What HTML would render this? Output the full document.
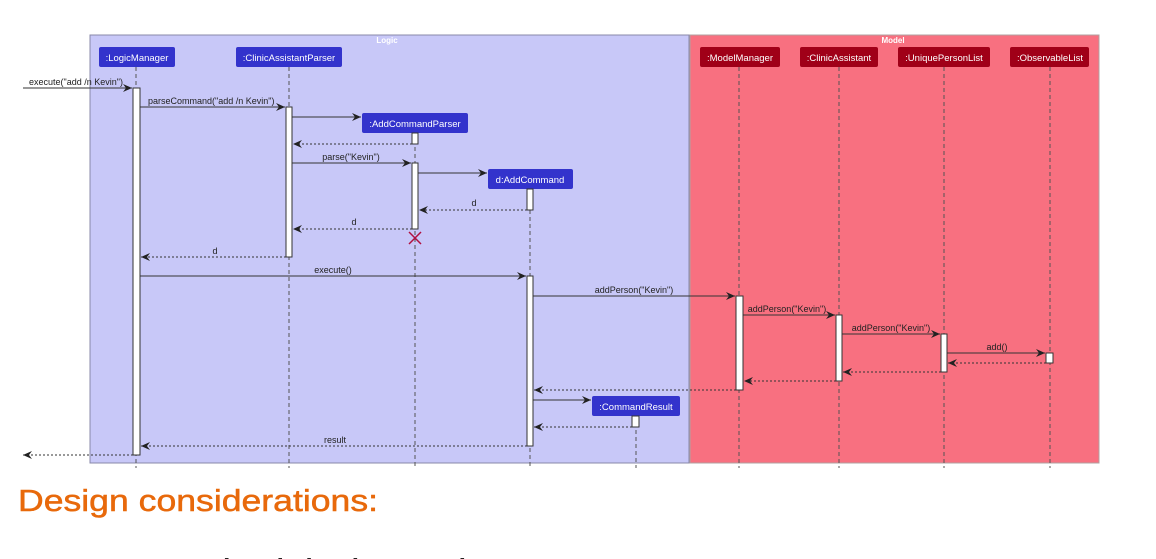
<!DOCTYPE html>
<html><head><meta charset="utf-8"><style>
html,body{margin:0;padding:0;background:#fff;width:1156px;height:559px;overflow:hidden}
svg{display:block}
</style></head><body>
<svg width="1156" height="559" xmlns="http://www.w3.org/2000/svg" font-family="Liberation Sans, sans-serif">
<defs>
<marker id="a" markerWidth="10" markerHeight="8" refX="9" refY="4" orient="auto" markerUnits="userSpaceOnUse">
<path d="M0,0 L9,4 L0,8 L3,4 Z" fill="#222"/></marker>
</defs>
<rect x="90" y="35" width="599" height="428" fill="#C8C8F8" stroke="#8888a8" stroke-width="1"/>
<rect x="690" y="35" width="409" height="428" fill="#F87080" stroke="#b0a0a0" stroke-width="1"/>
<text x="387" y="43" font-size="8" fill="#fff" text-anchor="middle" font-weight="bold">Logic</text>
<text x="893" y="43" font-size="8" fill="#fff" text-anchor="middle" font-weight="bold">Model</text>
<g stroke="#555" stroke-width="1" stroke-dasharray="4,3">
<line x1="136" y1="67" x2="136" y2="468"/><line x1="289" y1="67" x2="289" y2="468"/>
<line x1="415" y1="133" x2="415" y2="468"/><line x1="530" y1="189" x2="530" y2="468"/>
<line x1="636" y1="416" x2="636" y2="468"/>
<line x1="739" y1="67" x2="739" y2="468"/><line x1="839" y1="67" x2="839" y2="468"/>
<line x1="944" y1="67" x2="944" y2="468"/><line x1="1050" y1="67" x2="1050" y2="468"/>
</g>
<g font-size="9.5" fill="#fff" text-anchor="middle">
<rect x="99" y="47" width="76" height="20" rx="2" fill="#3333CC"/><text x="137" y="61">:LogicManager</text>
<rect x="236" y="47" width="106" height="20" rx="2" fill="#3333CC"/><text x="289" y="61">:ClinicAssistantParser</text>
<rect x="362" y="113" width="106" height="20" rx="2" fill="#3333CC"/><text x="415" y="127">:AddCommandParser</text>
<rect x="488" y="169" width="85" height="20" rx="2" fill="#3333CC"/><text x="530" y="183">d:AddCommand</text>
<rect x="592" y="396" width="88" height="20" rx="2" fill="#3333CC"/><text x="636" y="410">:CommandResult</text>
<rect x="700" y="47" width="80" height="20" rx="2" fill="#A00018"/><text x="740" y="61">:ModelManager</text>
<rect x="800" y="47" width="78" height="20" rx="2" fill="#A00018"/><text x="839" y="61">:ClinicAssistant</text>
<rect x="898" y="47" width="92" height="20" rx="2" fill="#A00018"/><text x="944" y="61">:UniquePersonList</text>
<rect x="1010" y="47" width="79" height="20" rx="2" fill="#A00018"/><text x="1050" y="61">:ObservableList</text>
</g>
<g fill="#fff" stroke="#333" stroke-width="1">
<rect x="133" y="88" width="7" height="367"/>
<rect x="286" y="107" width="6" height="150"/>
<rect x="412" y="133" width="6" height="11"/>
<rect x="412" y="163" width="6" height="66"/>
<rect x="527" y="189" width="6" height="21"/>
<rect x="527" y="276" width="6" height="170"/>
<rect x="632" y="416" width="7" height="11"/>
<rect x="736" y="296" width="7" height="94"/>
<rect x="836" y="315" width="6" height="66"/>
<rect x="941" y="334" width="6" height="38"/>
<rect x="1046" y="353" width="7" height="10"/>
</g>
<path d="M409,232 L421,244 M421,232 L409,244" stroke="#b01040" stroke-width="1.5"/>
<g stroke="#333" stroke-width="1" marker-end="url(#a)" fill="none">
<line x1="23" y1="88" x2="132" y2="88"/>
<line x1="140" y1="107" x2="285" y2="107"/>
<line x1="292" y1="117" x2="361" y2="117"/>
<line x1="292" y1="163" x2="411" y2="163"/>
<line x1="418" y1="173" x2="487" y2="173"/>
<line x1="140" y1="276" x2="526" y2="276"/>
<line x1="533" y1="296" x2="735" y2="296"/>
<line x1="743" y1="315" x2="835" y2="315"/>
<line x1="842" y1="334" x2="940" y2="334"/>
<line x1="947" y1="353" x2="1045" y2="353"/>
<line x1="533" y1="400" x2="591" y2="400"/>
</g>
<g stroke="#333" stroke-width="1" stroke-dasharray="2,2" marker-end="url(#a)" fill="none">
<line x1="412" y1="144" x2="293" y2="144"/>
<line x1="527" y1="210" x2="419" y2="210"/>
<line x1="412" y1="229" x2="293" y2="229"/>
<line x1="286" y1="257" x2="141" y2="257"/>
<line x1="1046" y1="363" x2="948" y2="363"/>
<line x1="941" y1="372" x2="843" y2="372"/>
<line x1="836" y1="381" x2="744" y2="381"/>
<line x1="736" y1="390" x2="534" y2="390"/>
<line x1="632" y1="427" x2="534" y2="427"/>
<line x1="527" y1="446" x2="141" y2="446"/>
<line x1="133" y1="455" x2="23" y2="455"/>
</g>
<g font-size="9" fill="#222">
<text x="29" y="85">execute("add /n Kevin")</text>
<text x="148" y="104">parseCommand("add /n Kevin")</text>
<text x="351" y="160" text-anchor="middle">parse("Kevin")</text>
<text x="474" y="206" text-anchor="middle">d</text>
<text x="354" y="225" text-anchor="middle">d</text>
<text x="215" y="254" text-anchor="middle">d</text>
<text x="333" y="273" text-anchor="middle">execute()</text>
<text x="634" y="293" text-anchor="middle">addPerson("Kevin")</text>
<text x="787" y="312" text-anchor="middle">addPerson("Kevin")</text>
<text x="891" y="331" text-anchor="middle">addPerson("Kevin")</text>
<text x="997" y="350" text-anchor="middle">add()</text>
<text x="335" y="443" text-anchor="middle">result</text>
</g>
<text x="18" y="511" font-size="31" fill="#E8690B" stroke="#E8690B" stroke-width="0.5" textLength="360" lengthAdjust="spacingAndGlyphs">Design considerations:</text>
<text x="18" y="577" font-size="26" font-weight="bold" fill="#222">Aspect: How Patient is implemented</text>
</svg>
</body></html>
